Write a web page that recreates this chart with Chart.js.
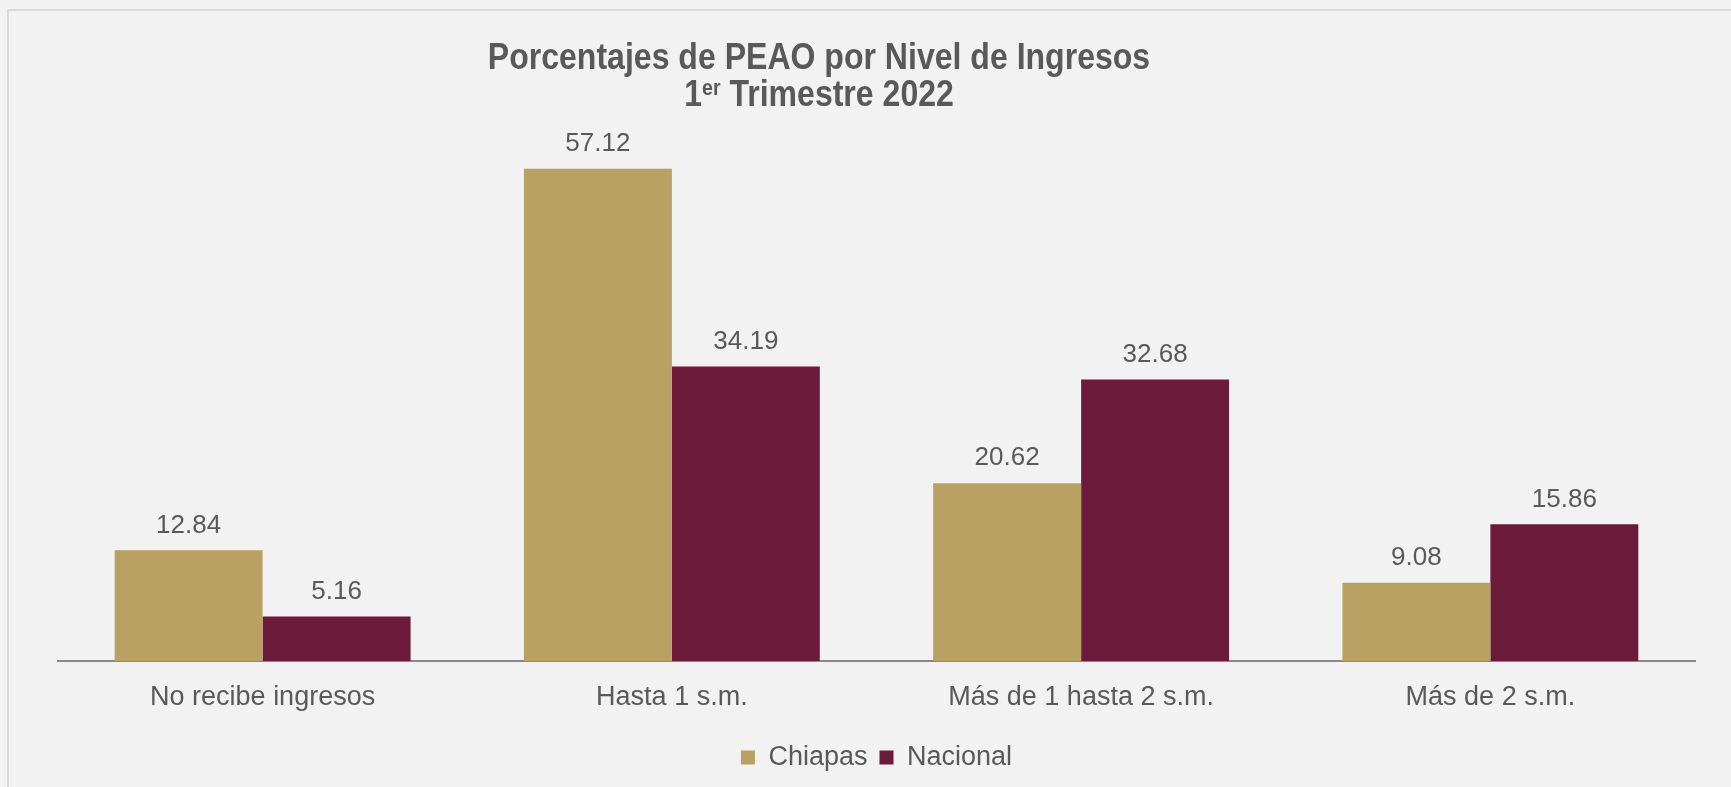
<!DOCTYPE html>
<html>
<head>
<meta charset="utf-8">
<script src="https://cdn.jsdelivr.net/npm/chart.js@4/dist/chart.umd.min.js"></script>
<style>
  html, body { margin: 0; padding: 0; background: #f2f2f2; overflow: hidden; }
  #frame { position: absolute; left: 7px; top: 9px; width: 1900px; height: 1000px; border: 2px solid #d9d9d9; }
  #wrap { position: absolute; left: 0; top: 0; width: 1731px; height: 787px; }
</style>
</head>
<body>
<div id="frame"></div>
<div id="wrap"><canvas id="myChart"></canvas></div>
<script>
const categories = ["No recibe ingresos", "Hasta 1 s.m.", "Más de 1 hasta 2 s.m.", "Más de 2 s.m."];
const chiapas = [12.84, 57.12, 20.62, 9.08];
const nacional = [5.16, 34.19, 32.68, 15.86];
const seriesNames = ["Chiapas", "Nacional"];

const textColor = "#595959";
const fontFam = "'Liberation Sans', Arial, sans-serif";

// title drawn by hand because of the superscript "er" (and the narrow look)
const titlePlugin = {
  id: "titleSup",
  afterDraw(chart) {
    const ctx = chart.ctx;
    const cx = 819;
    const sx = 0.89; // squeeze, the original uses a narrow font
    const big = "bold 36px " + fontFam;
    const small = "bold 22px " + fontFam;
    ctx.save();
    ctx.fillStyle = textColor;
    ctx.textBaseline = "alphabetic";
    ctx.translate(cx, 0);
    ctx.scale(sx, 1);
    ctx.textAlign = "center";
    ctx.font = big;
    ctx.fillText("Porcentajes de PEAO por Nivel de Ingresos", 0, 69);
    // second line: 1 + sup(er) + Trimestre 2022
    const a = "1", b = "er", c = " Trimestre 2022";
    ctx.font = big;
    const wa = ctx.measureText(a).width, wc = ctx.measureText(c).width;
    ctx.font = small;
    const wb = ctx.measureText(b).width;
    let x = -(wa + wb + wc) / 2;
    ctx.textAlign = "left";
    ctx.font = big;
    ctx.fillText(a, x, 106);
    x += wa;
    ctx.font = small;
    ctx.fillText(b, x, 95);
    x += wb;
    ctx.font = big;
    ctx.fillText(c, x, 106);
    ctx.restore();
  }
};

// value labels above the bars
const valuePlugin = {
  id: "values",
  afterDatasetsDraw(chart) {
    const ctx = chart.ctx;
    ctx.save();
    ctx.fillStyle = textColor;
    ctx.font = "26px " + fontFam;
    ctx.textAlign = "center";
    ctx.textBaseline = "bottom";
    chart.data.datasets.forEach((ds, i) => {
      chart.getDatasetMeta(i).data.forEach((bar, j) => {
        ctx.fillText(ds.data[j].toFixed(2), bar.x, bar.y - 12);
      });
    });
    ctx.restore();
  }
};

const myChart = document.querySelector("#myChart");
let chart = new Chart(myChart, {
  type: "bar",
  data: {
    labels: categories,
    datasets: [
      {
        label: seriesNames[0],
        data: chiapas,
        backgroundColor: "#b9a063",
        borderWidth: 0,
      },
      {
        label: seriesNames[1],
        data: nacional,
        backgroundColor: "#6b1a3a",
        borderWidth: 0,
      },
    ],
  },
  options: {
    responsive: true,
    maintainAspectRatio: false,
    animation: false,
    layout: {
      padding: { left: 58, right: 36, top: 144, bottom: 6 },
    },
    categoryPercentage: 0.723,
    barPercentage: 1.0,
    scales: {
      x: {
        grid: { display: false, drawTicks: false },
        border: { display: true, color: "#898989", width: 2 },
        ticks: {
          color: textColor,
          font: { size: 27, family: fontFam },
          padding: 20,
        },
        afterFit(scale) { scale.height = 71; },
      },
      y: {
        display: false,
        min: 0,
        max: 60,
      },
    },
    plugins: {
      legend: {
        position: "bottom",
        labels: {
          color: textColor,
          font: { size: 27, family: fontFam },
          boxWidth: 14,
          boxHeight: 14,
          padding: 12,
        },
      },
      tooltip: { enabled: false },
    },
  },
  plugins: [titlePlugin, valuePlugin],
});
</script>
</body>
</html>
